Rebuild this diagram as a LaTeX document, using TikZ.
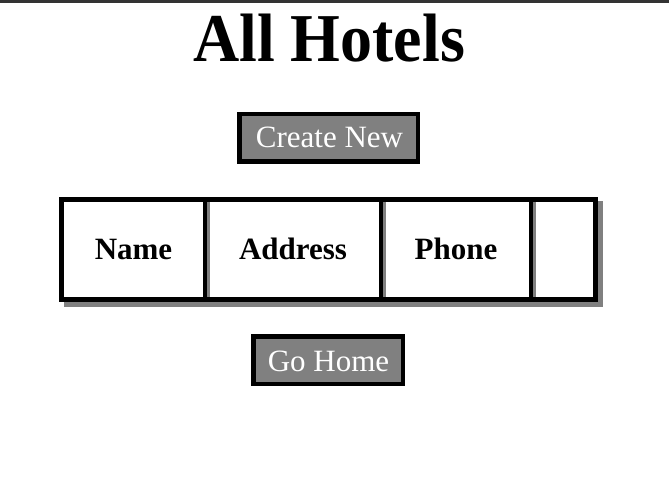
\documentclass[tikz,border=0pt]{standalone}
\usepackage{fontspec}
\setmainfont{Liberation Serif}
\definecolor{btngray}{HTML}{808080}
\definecolor{bardark}{HTML}{333333}
\begin{document}
\begin{tikzpicture}[x=1pt,y=-1pt,
  btnbox/.style={draw=black, line width=4.5pt, fill=btngray, inner sep=0pt, outer sep=0pt, minimum height=47.5pt},
  btnlabel/.style={anchor=base, inner sep=0pt, text=white, font=\fontsize{31}{31}\selectfont},
  headlabel/.style={anchor=base, inner sep=0pt, text=black, font=\fontsize{31}{31}\selectfont\bfseries},
  shadowfill/.style={fill=btngray, draw=none},
  sepline/.style={draw=black, line width=4pt},
  sepshadow/.style={fill=btngray, draw=none}]
\useasboundingbox (0,0) rectangle (669,486);
\fill[white] (0,0) rectangle (669,486);
% top bar
\fill[bardark] (0,0) rectangle (669,3);
% title
\node[anchor=base, inner sep=0pt, font=\fontsize{64}{64}\selectfont\bfseries] (title) at (329,62) {\scalebox{1}[1.07]{All Hotels}};
% Create New button
\node[btnbox, minimum width=178.5pt] (createbox) at (328.5,138) {};
\node[btnlabel] (createtext) at (329.5,148) {Create New};
% table shadow
\fill[shadowfill] (63.5,201.5) rectangle (602.5,306.5);
% table
\node[draw=black, line width=5pt, fill=white, inner sep=0pt, outer sep=0pt, minimum width=534pt, minimum height=100pt] (table) at (328.5,249.5) {};
% cell shadows
\fill[sepshadow] (207,202) rectangle (209.5,297);
\fill[sepshadow] (383.3,202) rectangle (385.8,297);
\fill[sepshadow] (533.3,202) rectangle (535.8,297);
% separators
\draw[sepline] (205,202) -- (205,297);
\draw[sepline] (381.3,202) -- (381.3,297);
\draw[sepline] (531.3,202) -- (531.3,297);
% headers
\node[headlabel] (hname) at (133.5,260) {Name};
\node[headlabel] (haddr) at (293,260) {Address};
\node[headlabel] (hphone) at (456,260) {Phone};
% Go Home button
\node[btnbox, minimum width=149.5pt] (homebox) at (328,360) {};
\node[btnlabel] (hometext) at (328.5,371) {Go Home};
\end{tikzpicture}
\end{document}
